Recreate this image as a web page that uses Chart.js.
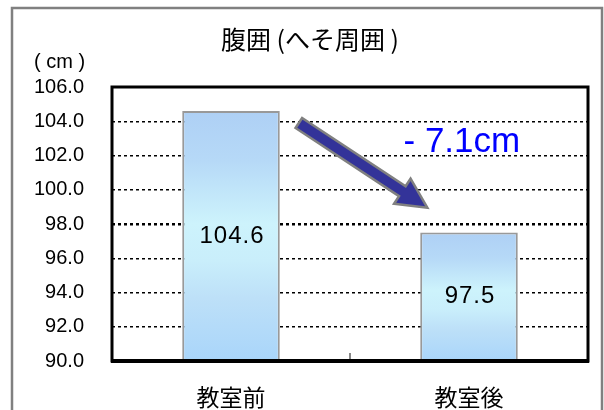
<!DOCTYPE html>
<html>
<head>
<meta charset="utf-8">
<script src="https://cdn.jsdelivr.net/npm/chart.js@4/dist/chart.umd.min.js"></script>
<style>
  html, body { margin: 0; padding: 0; background: #fff; }
  #wrap { width: 604px; height: 410px; position: relative; }
</style>
</head>
<body>
<div id="wrap"><canvas id="waistChart" width="604" height="410"></canvas></div>
<script>
// データ
const categories = ['教室前', '教室後'];
const waistValues = [104.6, 97.5];
const yTicks = [90, 92, 94, 96, 98, 100, 102, 104, 106];
const chartTitle = '腹囲 (へそ周囲 )';
const unitLabel = '( cm )';

const CJK = "'Noto Sans CJK JP', 'Noto Sans CJK SC', sans-serif";
const LATIN = "'Liberation Sans', Arial, sans-serif";

// 棒のグラデーション
function barGradient(context) {
    const chart = context.chart;
    const area = chart.chartArea;
    if (!area) return '#bfe3f8';
    const y = chart.scales.y;
    const top = y.getPixelForValue(waistValues[context.dataIndex]);
    const g = chart.ctx.createLinearGradient(0, top, 0, area.bottom);
    g.addColorStop(0, '#aed0f5');
    g.addColorStop(0.2, '#b6d9f7');
    g.addColorStop(0.45, '#cdf3fc');
    g.addColorStop(0.6, '#c9eefb');
    g.addColorStop(0.75, '#bde0f8');
    g.addColorStop(1, '#a9d5fa');
    return g;
}

// 枠・タイトル・ラベル・矢印
const decorations = {
    id: 'decorations',
    beforeDraw(chart) {
        const ctx = chart.ctx;
        ctx.save();
        ctx.fillStyle = '#fff';
        ctx.fillRect(0, 0, chart.width, chart.height);
        // 外枠
        ctx.strokeStyle = '#808080';
        ctx.lineWidth = 2.5;
        ctx.strokeRect(12, 8, 590, 500);
        // タイトル
        ctx.fillStyle = '#000';
        ctx.font = '25px ' + CJK;
        ctx.textAlign = 'center';
        ctx.textBaseline = 'middle';
        ctx.fillText(chartTitle, 310, 39);
        ctx.font = '20px ' + LATIN;
        ctx.textAlign = 'left';
        ctx.fillText(unitLabel, 34, 62);
        ctx.restore();
    },
    afterDatasetsDraw(chart) {
        const ctx = chart.ctx;
        const x = chart.scales.x;
        const y = chart.scales.y;
        const area = chart.chartArea;
        ctx.save();
        // 値ラベル
        ctx.fillStyle = '#000';
        ctx.font = '24px ' + LATIN;
        ctx.letterSpacing = '1px';
        ctx.textAlign = 'center';
        ctx.textBaseline = 'middle';
        waistValues.forEach((v, i) => {
            const top = y.getPixelForValue(v);
            ctx.fillText(v.toFixed(1), x.getPixelForValue(i) + 1, (top + area.bottom) / 2);
        });
        ctx.letterSpacing = '0px';

        // 矢印
        const step = x.getPixelForValue(1) - x.getPixelForValue(0);
        const x0 = x.getPixelForValue(0) + step * 0.285;
        const y0 = y.getPixelForValue(103.9);
        const x1 = x.getPixelForValue(0) + step * 0.825;
        const y1 = y.getPixelForValue(98.95);
        const ang = Math.atan2(y1 - y0, x1 - x0);
        const len = Math.hypot(x1 - x0, y1 - y0);
        const shaft = 6, head = 15, headLen = 30;
        ctx.translate(x0, y0);
        ctx.rotate(ang);
        ctx.beginPath();
        ctx.moveTo(0, -shaft);
        ctx.lineTo(len - headLen, -shaft);
        ctx.lineTo(len - headLen, -head);
        ctx.lineTo(len, 0);
        ctx.lineTo(len - headLen, head);
        ctx.lineTo(len - headLen, shaft);
        ctx.lineTo(0, shaft);
        ctx.closePath();
        ctx.fillStyle = '#333399';
        ctx.fill();
        ctx.strokeStyle = '#808080';
        ctx.lineWidth = 2.5;
        ctx.lineJoin = 'miter';
        ctx.stroke();
        ctx.setTransform(1, 0, 0, 1, 0, 0);

        // 差分
        const diff = waistValues[1] - waistValues[0];
        ctx.fillStyle = '#0000ff';
        ctx.font = '35px ' + LATIN;
        ctx.textAlign = 'center';
        ctx.fillText('- ' + Math.abs(diff).toFixed(1) + 'cm', x.getPixelForValue(0) + step * 0.97, y.getPixelForValue(102.75));
        ctx.restore();
    },
    afterDraw(chart) {
        const ctx = chart.ctx;
        const a = chart.chartArea;
        const x = chart.scales.x;
        ctx.save();
        // 小さな目盛
        const mid = (x.getPixelForValue(0) + x.getPixelForValue(1)) / 2;
        ctx.strokeStyle = '#888';
        ctx.lineWidth = 2;
        ctx.beginPath();
        ctx.moveTo(mid, a.bottom - 8);
        ctx.lineTo(mid, a.bottom);
        ctx.stroke();
        // プロットエリア枠
        ctx.strokeStyle = '#000';
        ctx.lineWidth = 3;
        ctx.strokeRect(a.left, a.top, a.right - a.left, a.bottom - a.top);
        ctx.lineWidth = 4;
        ctx.beginPath();
        ctx.moveTo(a.left - 1, a.bottom);
        ctx.lineTo(a.right + 1, a.bottom);
        ctx.stroke();
        ctx.restore();
    }
};

new Chart(document.getElementById('waistChart'), {
    type: 'bar',
    data: {
        labels: categories,
        datasets: [{
            data: waistValues,
            backgroundColor: barGradient,
            borderColor: '#999999',
            borderWidth: 2,
            borderSkipped: 'bottom',
            barPercentage: 0.41,
            categoryPercentage: 1
        }]
    },
    options: {
        responsive: false,
        animation: false,
        layout: { padding: { top: 87, right: 16, left: 0, bottom: 0 } },
        plugins: {
            legend: { display: false },
            title: { display: false },
            tooltip: { enabled: false }
        },
        scales: {
            x: {
                grid: { display: false, drawTicks: false },
                border: { display: false },
                ticks: { color: '#000', font: { family: CJK, size: 23 }, padding: 22 },
                afterFit(scale) { scale.height = 49; }
            },
            y: {
                min: yTicks[0],
                max: yTicks[yTicks.length - 1],
                afterBuildTicks(scale) { scale.ticks = yTicks.map(v => ({ value: v })); },
                ticks: {
                    color: '#000',
                    font: { family: LATIN, size: 20 },
                    padding: 28,
                    callback: v => Number(v).toFixed(1)
                },
                grid: {
                    drawTicks: false,
                    color: '#000',
                    lineWidth: c => (c.tick && c.tick.value === 98 ? 2.5 : 1.5)
                },
                border: { display: false, dash: [3, 3] },
                afterFit(scale) { scale.width = 112; }
            }
        }
    },
    plugins: [decorations]
});
</script>
</body>
</html>
